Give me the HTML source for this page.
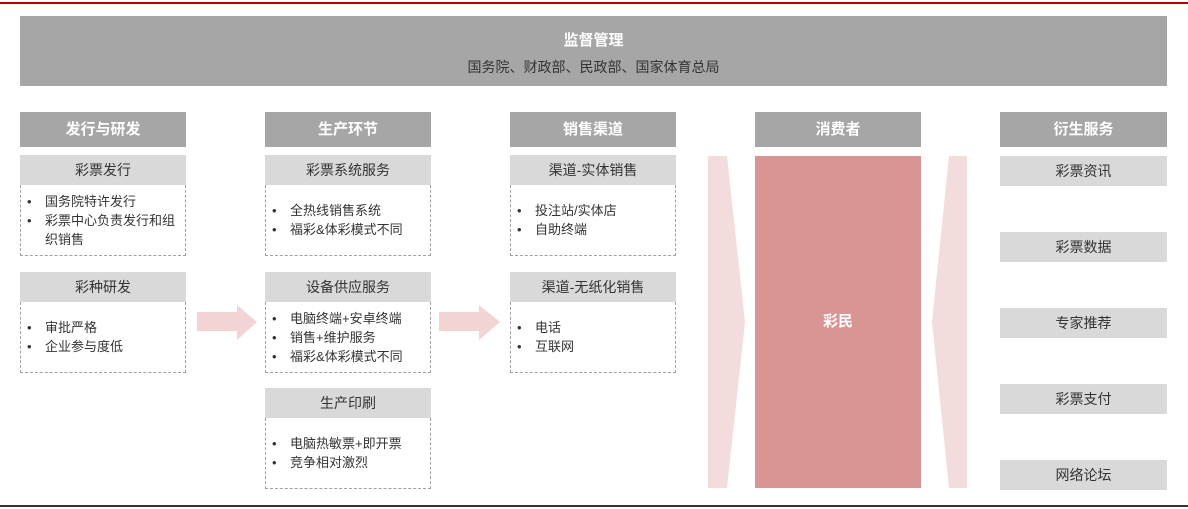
<!DOCTYPE html>
<html><head><meta charset="utf-8"><style>
*{margin:0;padding:0;box-sizing:border-box}
body{width:1188px;height:509px;background:#fff;position:relative;overflow:hidden;font-family:"Liberation Sans","Noto Sans CJK SC",sans-serif;color:#333}
.a{position:absolute}
.h{background:#a6a6a6;color:#fff;font-size:15px;font-weight:bold;text-align:center;line-height:35px;height:35px;width:166px}
.s{background:#d9d9d9;font-size:14px;text-align:center;line-height:30px;height:30px;width:166px;color:#333}
.d{border:1.2px dashed #a0a0a0;border-top:none;width:166px;font-size:13px;padding-left:6px;padding-right:4px;display:flex;flex-direction:column;justify-content:center;line-height:19px}
.d div{padding-left:18px;position:relative}
.d div:before{content:"•";position:absolute;left:0}
</style></head><body>
<div class="a" style="left:0;top:2px;width:1188px;height:2px;background:#c00000"></div>
<div class="a" style="left:0;top:505px;width:1188px;height:2px;background:#333"></div>
<div class="a" style="left:20px;top:16px;width:1147px;height:70px;background:#a6a6a6;text-align:center;color:#fff">
<div style="font-size:15px;font-weight:bold;margin-top:13px">监督管理</div>
<div style="font-size:14px;color:#333;margin-top:7px">国务院、财政部、民政部、国家体育总局</div></div>

<div class="a h" style="left:20px;top:112px">发行与研发</div>
<div class="a s" style="left:20px;top:155px">彩票发行</div>
<div class="a d" style="left:20px;top:185px;height:71px"><div>国务院特许发行</div><div>彩票中心负责发行和组织销售</div></div>
<div class="a s" style="left:20px;top:272px">彩种研发</div>
<div class="a d" style="left:20px;top:302px;height:71px"><div>审批严格</div><div>企业参与度低</div></div>

<div class="a h" style="left:265px;top:112px">生产环节</div>
<div class="a s" style="left:265px;top:155px">彩票系统服务</div>
<div class="a d" style="left:265px;top:185px;height:71px"><div>全热线销售系统</div><div>福彩&amp;体彩模式不同</div></div>
<div class="a s" style="left:265px;top:272px">设备供应服务</div>
<div class="a d" style="left:265px;top:302px;height:71px"><div>电脑终端+安卓终端</div><div>销售+维护服务</div><div>福彩&amp;体彩模式不同</div></div>
<div class="a s" style="left:265px;top:388px">生产印刷</div>
<div class="a d" style="left:265px;top:418px;height:71px"><div>电脑热敏票+即开票</div><div>竞争相对激烈</div></div>

<div class="a h" style="left:510px;top:112px">销售渠道</div>
<div class="a s" style="left:510px;top:155px">渠道-实体销售</div>
<div class="a d" style="left:510px;top:185px;height:71px"><div>投注站/实体店</div><div>自助终端</div></div>
<div class="a s" style="left:510px;top:272px">渠道-无纸化销售</div>
<div class="a d" style="left:510px;top:302px;height:71px"><div>电话</div><div>互联网</div></div>

<svg class="a" style="left:0;top:0" width="1188" height="509">
<polygon points="197,312 237,312 237,305 257,322 237,340 237,331 197,331" fill="#f2d4d4"/>
<polygon points="439,312 479,312 479,305 500,322 479,340 479,331 439,331" fill="#f2d4d4"/>
<polygon points="708,156 727,156 745,322 727,488 708,488" fill="#f2dcdc"/>
<polygon points="949,156 967,156 967,488 949,488 932,322" fill="#f2dcdc"/>
</svg>

<div class="a h" style="left:755px;top:112px">消费者</div>
<div class="a" style="left:755px;top:156px;width:166px;height:332px;background:#d99594;color:#fff;font-weight:bold;font-size:15px;text-align:center;line-height:332px">彩民</div>

<div class="a h" style="left:1000px;top:112px;width:167px">衍生服务</div>
<div class="a s" style="left:1000px;top:156px;width:167px">彩票资讯</div>
<div class="a s" style="left:1000px;top:232px;width:167px">彩票数据</div>
<div class="a s" style="left:1000px;top:308px;width:167px">专家推荐</div>
<div class="a s" style="left:1000px;top:384px;width:167px">彩票支付</div>
<div class="a s" style="left:1000px;top:460px;width:167px">网络论坛</div>
</body></html>
